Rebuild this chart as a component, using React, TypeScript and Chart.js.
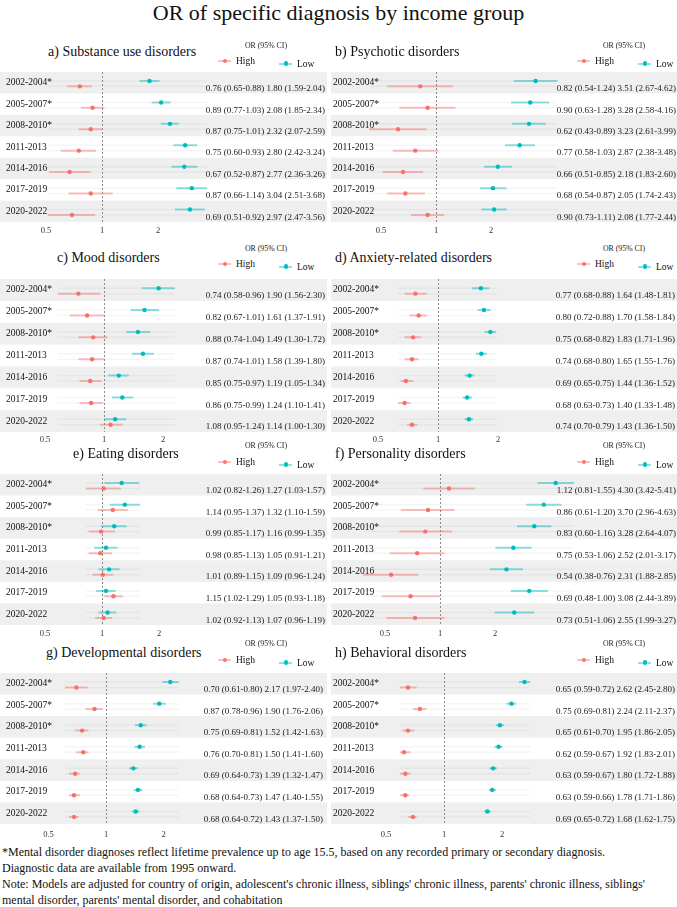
import React, { useEffect, useRef } from "react";
import { Chart, registerables } from "chart.js";

Chart.register(...registerables);

// ---------- DATA ----------
const periods = ["2002-2004*", "2005-2007*", "2008-2010*", "2011-2013", "2014-2016", "2017-2019", "2020-2022"];
const tickValues = [0.5, 1, 2];

// [OR, lower, upper]
const substanceHigh = [[0.76, 0.65, 0.88], [0.89, 0.77, 1.03], [0.87, 0.75, 1.01], [0.75, 0.60, 0.93], [0.67, 0.52, 0.87], [0.87, 0.66, 1.14], [0.69, 0.51, 0.92]];
const substanceLow = [[1.80, 1.59, 2.04], [2.08, 1.85, 2.34], [2.32, 2.07, 2.59], [2.80, 2.42, 3.24], [2.77, 2.36, 3.26], [3.04, 2.51, 3.68], [2.97, 2.47, 3.56]];

const psychoticHigh = [[0.82, 0.54, 1.24], [0.90, 0.63, 1.28], [0.62, 0.43, 0.89], [0.77, 0.58, 1.03], [0.66, 0.51, 0.85], [0.68, 0.54, 0.87], [0.90, 0.73, 1.11]];
const psychoticLow = [[3.51, 2.67, 4.62], [3.28, 2.58, 4.16], [3.23, 2.61, 3.99], [2.87, 2.38, 3.48], [2.18, 1.83, 2.60], [2.05, 1.74, 2.43], [2.08, 1.77, 2.44]];

const moodHigh = [[0.74, 0.58, 0.96], [0.82, 0.67, 1.01], [0.88, 0.74, 1.04], [0.87, 0.74, 1.01], [0.85, 0.75, 0.97], [0.86, 0.75, 0.99], [1.08, 0.95, 1.24]];
const moodLow = [[1.90, 1.56, 2.30], [1.61, 1.37, 1.91], [1.49, 1.30, 1.72], [1.58, 1.39, 1.80], [1.19, 1.05, 1.34], [1.24, 1.10, 1.41], [1.14, 1.00, 1.30]];

const anxietyHigh = [[0.77, 0.68, 0.88], [0.80, 0.72, 0.88], [0.75, 0.68, 0.82], [0.74, 0.68, 0.80], [0.69, 0.65, 0.75], [0.68, 0.63, 0.73], [0.74, 0.70, 0.79]];
const anxietyLow = [[1.64, 1.48, 1.81], [1.70, 1.58, 1.84], [1.83, 1.71, 1.96], [1.65, 1.55, 1.76], [1.44, 1.36, 1.52], [1.40, 1.33, 1.48], [1.43, 1.36, 1.50]];

const eatingHigh = [[1.02, 0.82, 1.26], [1.14, 0.95, 1.37], [0.99, 0.85, 1.17], [0.98, 0.85, 1.13], [1.01, 0.89, 1.15], [1.15, 1.02, 1.29], [1.02, 0.92, 1.13]];
const eatingLow = [[1.27, 1.03, 1.57], [1.32, 1.10, 1.59], [1.16, 0.99, 1.35], [1.05, 0.91, 1.21], [1.09, 0.96, 1.24], [1.05, 0.93, 1.18], [1.07, 0.96, 1.19]];

const personalityHigh = [[1.12, 0.81, 1.55], [0.86, 0.61, 1.20], [0.83, 0.60, 1.16], [0.75, 0.53, 1.06], [0.54, 0.38, 0.76], [0.69, 0.48, 1.00], [0.73, 0.51, 1.06]];
const personalityLow = [[4.30, 3.42, 5.41], [3.70, 2.96, 4.63], [3.28, 2.64, 4.07], [2.52, 2.01, 3.17], [2.31, 1.88, 2.85], [3.08, 2.44, 3.89], [2.55, 1.99, 3.27]];

const developmentalHigh = [[0.70, 0.61, 0.80], [0.87, 0.78, 0.96], [0.75, 0.69, 0.81], [0.76, 0.70, 0.81], [0.69, 0.64, 0.73], [0.68, 0.64, 0.73], [0.68, 0.64, 0.72]];
const developmentalLow = [[2.17, 1.97, 2.40], [1.90, 1.76, 2.06], [1.52, 1.42, 1.63], [1.50, 1.41, 1.60], [1.39, 1.32, 1.47], [1.47, 1.40, 1.55], [1.43, 1.37, 1.50]];

const behavioralHigh = [[0.65, 0.59, 0.72], [0.75, 0.69, 0.81], [0.65, 0.61, 0.70], [0.62, 0.59, 0.67], [0.63, 0.59, 0.67], [0.63, 0.59, 0.66], [0.69, 0.65, 0.72]];
const behavioralLow = [[2.62, 2.45, 2.80], [2.24, 2.11, 2.37], [1.95, 1.86, 2.05], [1.92, 1.83, 2.01], [1.80, 1.72, 1.88], [1.78, 1.71, 1.86], [1.68, 1.62, 1.75]];

const mainTitle = "OR of specific diagnosis by income group";
const footnotes = [
  "*Mental disorder diagnoses reflect lifetime prevalence up to age 15.5, based on any recorded primary or secondary diagnosis.",
  "Diagnostic data are available from 1995 onward.",
  "Note: Models are adjusted for country of origin, adolescent's chronic illness, siblings' chronic illness, parents' chronic illness, siblings'",
  "mental disorder, parents' mental disorder, and cohabitation",
];

// ---------- STYLE / LAYOUT ----------
const FONT = "'Liberation Serif', 'Times New Roman', serif";
const HIGH_COLOR = "#F8766D";
const LOW_COLOR = "#00BFC4";
const HIGH_CI = "rgba(248,118,109,0.45)";
const LOW_CI = "rgba(0,191,196,0.45)";
const BAND = "#EFEFEF";
const OFF_LOW = -0.08;
const OFF_HIGH = 0.17;
const X_AXIS_H = 20;

type Row = number[];
type PanelCfg = {
  title: string; high: Row[]; low: Row[];
  left: number; width: number; top: number; rowH: number; tickPad: number;
  one: number; dpp: number; textEnd: number; labelStart: number; areaLeft: number;
  titleX: number; titleY: number; orY: number; legY: number;
  orCenter: number; highX: number; lowX: number;
};

const L = { left: 0, width: 327, labelStart: 6, areaLeft: 40, orCenter: 266, highX: 218, lowX: 279 };
const R = { left: 331, width: 346, labelStart: 2, areaLeft: 28, orCenter: 624, highX: 577, lowX: 638 };

const panels: PanelCfg[] = [
  { ...L, title: "a) Substance use disorders", high: substanceHigh, low: substanceLow, top: 68, rowH: 22, tickPad: 4, one: 102, dpp: 56, textEnd: 325, titleX: 48, titleY: 52, orY: 45.5, legY: 61 },
  { ...R, title: "b) Psychotic disorders", high: psychoticHigh, low: psychoticLow, top: 68, rowH: 22, tickPad: 4, one: 436, dpp: 55, textEnd: 676, titleX: 335, titleY: 52, orY: 45.5, legY: 61 },
  { ...L, title: "c) Mood disorders", high: moodHigh, low: moodLow, top: 275, rowH: 22.4, tickPad: 3, one: 104, dpp: 59, textEnd: 325, titleX: 57, titleY: 258, orY: 249, legY: 264 },
  { ...R, title: "d) Anxiety-related disorders", high: anxietyHigh, low: anxietyLow, top: 275, rowH: 22.4, tickPad: 3, one: 438, dpp: 60, textEnd: 675, titleX: 335, titleY: 258, orY: 249, legY: 264 },
  { ...L, title: "e) Eating disorders", high: eatingHigh, low: eatingLow, top: 470, rowH: 22.1, tickPad: 4, one: 102, dpp: 57, textEnd: 325, titleX: 73, titleY: 454, orY: 446, legY: 462 },
  { ...R, title: "f) Personality disorders", high: personalityHigh, low: personalityLow, top: 470, rowH: 22.1, tickPad: 4, one: 440, dpp: 55, textEnd: 676, titleX: 335, titleY: 454, orY: 446, legY: 462 },
  { ...L, title: "g) Developmental disorders", high: developmentalHigh, low: developmentalLow, top: 669, rowH: 22.2, tickPad: 6, one: 106, dpp: 57.5, textEnd: 323, titleX: 46, titleY: 653, orY: 644, legY: 660 },
  { ...R, title: "h) Behavioral disorders", high: behavioralHigh, low: behavioralLow, top: 669, rowH: 22.2, tickPad: 6, one: 444, dpp: 58, textEnd: 675, titleX: 335, titleY: 653, orY: 644, legY: 660 },
];

const fmt = (r: Row) => `${r[0].toFixed(2)} (${r[1].toFixed(2)}-${r[2].toFixed(2)})`;

function PanelChart({ p }: { p: PanelCfg }) {
  const ref = useRef<HTMLCanvasElement>(null);
  const n = periods.length;
  const H = Math.round(n * p.rowH + X_AXIS_H);

  useEffect(() => {
    const minL = Math.min(...p.high.map((r) => r[1]), ...p.low.map((r) => r[1]));
    const maxU = Math.max(...p.high.map((r) => r[2]), ...p.low.map((r) => r[2]));
    const oneRel = p.one - p.left;
    const areaLeft = p.areaLeft;
    const areaRight = Math.min(p.width - 2, oneRel + p.dpp * Math.log2(maxU) + 3);
    const rightAxisW = p.width - areaRight;
    const xMin = Math.pow(2, (areaLeft - oneRel) / p.dpp);
    const xMax = Math.pow(2, (areaRight - oneRel) / p.dpp);
    const leftPad = p.labelStart - areaLeft; // mirrored left axis: x = right + padding
    const rightPad = (p.textEnd - p.left) - areaRight; // mirrored right axis: right aligned at left + padding

    const ciData = (arr: Row[], off: number) =>
      arr.flatMap((r, i) => [{ x: r[1], y: i + off }, { x: r[2], y: i + off }, { x: null, y: null }]);
    const ptData = (arr: Row[], off: number) => arr.map((r, i) => ({ x: r[0], y: i + off }));
    const faint = periods.flatMap((_, i) => [
      { x: minL, y: i + OFF_LOW }, { x: maxU, y: i + OFF_LOW }, { x: null, y: null },
      { x: minL, y: i + OFF_HIGH }, { x: maxU, y: i + OFF_HIGH }, { x: null, y: null },
    ]);
    const orText = periods.map((_, i) => `${fmt(p.high[i])} ${fmt(p.low[i])}`);

    const decor = {
      id: "decor",
      beforeDraw(chart: any) {
        const ctx = chart.ctx;
        const ys = chart.scales.y;
        ctx.save();
        ctx.fillStyle = BAND;
        for (let i = 0; i < n; i += 2) {
          const a = ys.getPixelForValue(i - 0.5);
          const b = ys.getPixelForValue(i + 0.5);
          ctx.fillRect(0, Math.min(a, b), chart.width, Math.abs(b - a));
        }
        ctx.restore();
      },
      beforeDatasetsDraw(chart: any) {
        const ctx = chart.ctx;
        const xs = chart.scales.x;
        const ys = chart.scales.y;
        const px = Math.round(xs.getPixelForValue(1)) + 0.5;
        ctx.save();
        ctx.strokeStyle = "#8a8a8a";
        ctx.lineWidth = 1;
        ctx.setLineDash([2, 2]);
        ctx.beginPath();
        ctx.moveTo(px, ys.getPixelForValue(-0.5));
        ctx.lineTo(px, ys.getPixelForValue(n - 0.5));
        ctx.stroke();
        ctx.restore();
      },
    };

    const fixV = (w: number) => (s: any) => { s.width = w; s.paddingTop = 0; s.paddingBottom = 0; };

    const chart = new Chart(ref.current as HTMLCanvasElement, {
      type: "line",
      data: {
        datasets: [
          { data: faint as any, borderColor: "rgba(0,0,0,0.04)", borderWidth: 1.5, pointRadius: 0, spanGaps: false, xAxisID: "x", yAxisID: "y" },
          { data: ciData(p.high, OFF_HIGH) as any, borderColor: HIGH_CI, borderWidth: 2, pointRadius: 0, spanGaps: false, xAxisID: "x", yAxisID: "y" },
          { data: ciData(p.low, OFF_LOW) as any, borderColor: LOW_CI, borderWidth: 2, pointRadius: 0, spanGaps: false, xAxisID: "x", yAxisID: "y" },
          { data: ptData(p.high, OFF_HIGH) as any, showLine: false, pointRadius: 2.2, pointBackgroundColor: HIGH_COLOR, pointBorderWidth: 0, xAxisID: "x", yAxisID: "y" },
          { data: ptData(p.low, OFF_LOW) as any, showLine: false, pointRadius: 2.2, pointBackgroundColor: LOW_COLOR, pointBorderWidth: 0, xAxisID: "x", yAxisID: "y" },
        ],
      },
      options: {
        responsive: false,
        animation: false,
        devicePixelRatio: 1,
        events: [],
        layout: { padding: 0 },
        plugins: { legend: { display: false }, tooltip: { enabled: false } },
        scales: {
          x: {
            type: "logarithmic",
            position: "bottom",
            min: xMin,
            max: xMax,
            grid: { display: false, drawTicks: false },
            border: { display: false },
            afterBuildTicks: (s: any) => { s.ticks = tickValues.map((v) => ({ value: v })); },
            afterFit: (s: any) => { s.height = X_AXIS_H; s.paddingLeft = 0; s.paddingRight = 0; },
            ticks: {
              callback: (v: any) => String(v),
              autoSkip: false, maxRotation: 0, minRotation: 0, padding: p.tickPad,
              color: "#333", font: { family: FONT, size: 8.5 },
            },
          },
          y: {
            type: "linear",
            position: "left",
            min: -0.5,
            max: n - 0.5,
            reverse: true,
            grid: { display: false, drawTicks: false },
            border: { display: false },
            afterBuildTicks: (s: any) => { s.ticks = periods.map((_, i) => ({ value: i })); },
            afterFit: fixV(areaLeft),
            ticks: {
              callback: (_v: any, i: number) => periods[i],
              mirror: true, crossAlign: "near", padding: leftPad, autoSkip: false,
              color: "#111", font: { family: FONT, size: 9.5 },
            },
          },
          y2: {
            type: "linear",
            position: "right",
            min: -0.5,
            max: n - 0.5,
            reverse: true,
            grid: { display: false, drawTicks: false },
            border: { display: false },
            afterBuildTicks: (s: any) => { s.ticks = periods.map((_, i) => ({ value: i })); },
            afterFit: fixV(rightAxisW),
            ticks: {
              callback: (_v: any, i: number) => orText[i],
              mirror: true, crossAlign: "near", padding: rightPad, labelOffset: 6, autoSkip: false,
              color: "#1a1a1a", font: { family: FONT, size: 9 },
            },
          },
        },
      } as any,
      plugins: [decor],
    });
    return () => chart.destroy();
  }, []);

  return (
    <canvas
      ref={ref}
      width={p.width}
      height={H}
      style={{ position: "absolute", left: p.left, top: p.top, width: p.width, height: H, display: "block" }}
    />
  );
}

function LegendItem({ x, y, color, ci, label }: { x: number; y: number; color: string; ci: string; label: string }) {
  return (
    <>
      <div style={{ position: "absolute", left: x, top: y - 1, width: 13, height: 2, background: ci }} />
      <div style={{ position: "absolute", left: x + 4.5, top: y - 2.2, width: 4.4, height: 4.4, borderRadius: "50%", background: color }} />
      <div style={{ position: "absolute", left: x + 18, top: y - 6, fontSize: 9.5, lineHeight: "12px", whiteSpace: "nowrap", fontFamily: FONT, color: "#111" }}>{label}</div>
    </>
  );
}

function PanelText({ p }: { p: PanelCfg }) {
  return (
    <>
      <div style={{ position: "absolute", left: p.titleX, top: p.titleY - 8, fontSize: 14, lineHeight: "16px", whiteSpace: "nowrap", fontFamily: FONT, color: "#111" }}>{p.title}</div>
      <div style={{ position: "absolute", left: p.orCenter - 40, width: 80, textAlign: "center", top: p.orY - 5, fontSize: 7.8, lineHeight: "10px", whiteSpace: "nowrap", fontFamily: FONT, color: "#222" }}>OR (95% CI)</div>
      <LegendItem x={p.highX} y={p.legY} color={HIGH_COLOR} ci={HIGH_CI} label="High" />
      <LegendItem x={p.lowX} y={p.legY + 2.5} color={LOW_COLOR} ci={LOW_CI} label="Low" />
    </>
  );
}

export default function App() {
  return (
    <div style={{ position: "absolute", left: 0, top: 0, width: 677, height: 907, background: "#fff", overflow: "hidden", fontFamily: FONT }}>
      <div style={{ position: "absolute", left: 0, width: 677, top: 1, textAlign: "center", fontSize: 22, lineHeight: "24px", color: "#111", whiteSpace: "nowrap" }}>{mainTitle}</div>
      {panels.map((p, i) => (
        <React.Fragment key={i}>
          <PanelChart p={p} />
          <PanelText p={p} />
        </React.Fragment>
      ))}
      {footnotes.map((t, i) => (
        <div key={i} style={{ position: "absolute", left: 2, top: 844 + i * 16, fontSize: 12, lineHeight: "16px", whiteSpace: "nowrap", color: "#111" }}>{t}</div>
      ))}
    </div>
  );
}
